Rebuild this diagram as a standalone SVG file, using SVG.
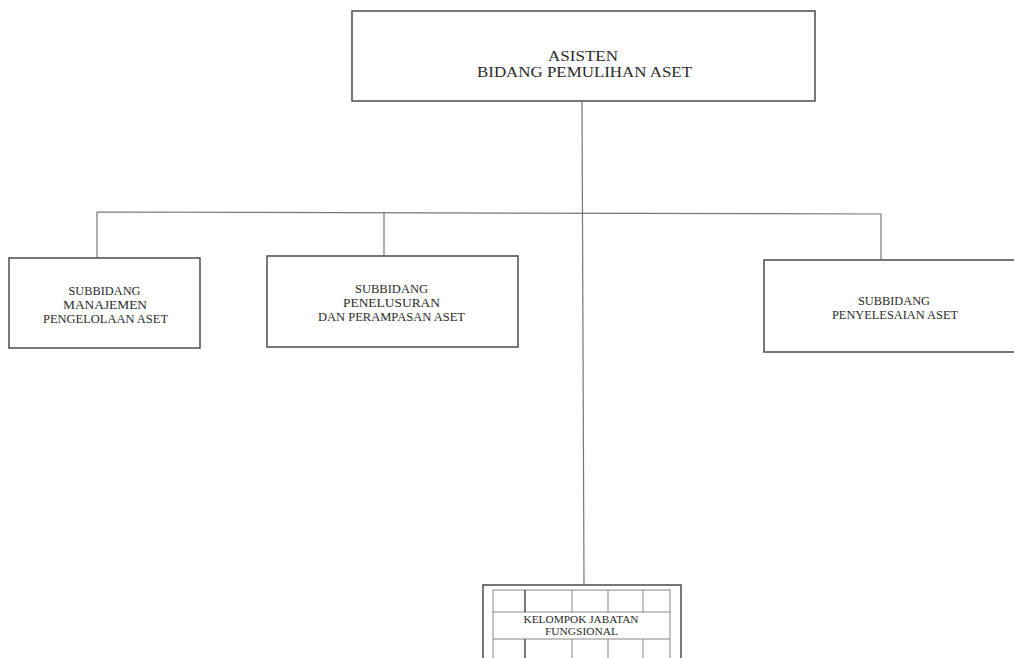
<svg xmlns="http://www.w3.org/2000/svg" width="1014" height="658" viewBox="0 0 1014 658">
<style>
.box{fill:#fff;stroke:#555;stroke-width:1.6}
.con{fill:none;stroke:#777;stroke-width:1.2}
.grid{fill:none;stroke:#888;stroke-width:1}
.t{font-family:"Liberation Serif","DejaVu Serif",serif;fill:#2a2a2a;text-anchor:middle}
.big{font-size:14px}
.sm{font-size:12px}
.xs{font-size:10px}
</style>
<rect width="1014" height="658" fill="#fff"/>
<g id="connectors">
<path class="con" d="M582,101 L584,585"/>
<path class="con" d="M97,258 L97,212 L881,214 L881,260"/>
<path class="con" d="M384,256 L384,212.5"/>
</g>
<g id="asisten">
<rect class="box" x="352" y="11" width="463" height="90"/>
<text class="t big" x="583" y="61" textLength="70" lengthAdjust="spacingAndGlyphs">ASISTEN</text>
<text class="t big" x="584.5" y="76.5" textLength="215" lengthAdjust="spacingAndGlyphs">BIDANG PEMULIHAN ASET</text>
</g>
<g id="manajemen">
<rect class="box" x="9" y="258" width="191" height="90"/>
<text class="t sm" x="104.5" y="295" textLength="72" lengthAdjust="spacingAndGlyphs">SUBBIDANG</text>
<text class="t sm" x="105" y="309" textLength="84" lengthAdjust="spacingAndGlyphs">MANAJEMEN</text>
<text class="t sm" x="105.5" y="323" textLength="125" lengthAdjust="spacingAndGlyphs">PENGELOLAAN ASET</text>
</g>
<g id="penelusuran">
<rect class="box" x="267" y="256" width="251" height="91"/>
<text class="t sm" x="391.5" y="293" textLength="73" lengthAdjust="spacingAndGlyphs">SUBBIDANG</text>
<text class="t sm" x="391.5" y="307" textLength="97" lengthAdjust="spacingAndGlyphs">PENELUSURAN</text>
<text class="t sm" x="391.5" y="321" textLength="147" lengthAdjust="spacingAndGlyphs">DAN PERAMPASAN ASET</text>
</g>
<g id="penyelesaian">
<rect class="box" x="764" y="260" width="270" height="92"/>
<text class="t sm" x="894" y="305" textLength="72" lengthAdjust="spacingAndGlyphs">SUBBIDANG</text>
<text class="t sm" x="895" y="318.5" textLength="126" lengthAdjust="spacingAndGlyphs">PENYELESAIAN ASET</text>
</g>
<g id="fungsional">
<rect class="box" x="483" y="585" width="198" height="90"/>
<rect class="grid" x="493" y="590" width="177" height="80"/>
<path class="grid" d="M493,612 L670,612 M493,639 L670,639 M572,590 L572,612 M608,590 L608,612 M643,590 L643,612 M572,639 L572,670 M608,639 L608,670 M643,639 L643,670"/>
<path fill="none" stroke="#333" stroke-width="1.3" d="M525,590 L525,612 M525,639 L525,670"/>
<text class="t xs" x="581" y="623.3" textLength="115" lengthAdjust="spacingAndGlyphs">KELOMPOK JABATAN</text>
<text class="t xs" x="581.5" y="635" textLength="73" lengthAdjust="spacingAndGlyphs">FUNGSIONAL</text>
</g>
</svg>
